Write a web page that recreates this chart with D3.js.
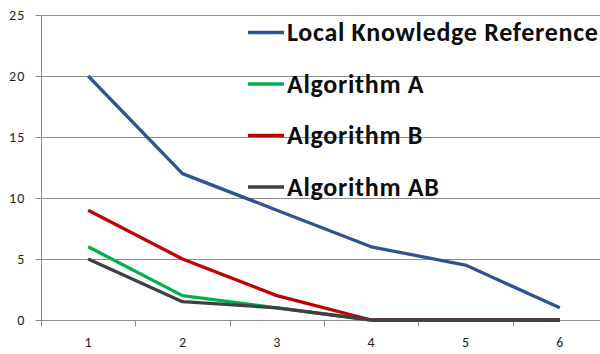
<!DOCTYPE html>
<html>
<head>
<meta charset="utf-8">
<script src="https://cdn.jsdelivr.net/npm/d3@7/dist/d3.min.js"></script>
<style>
  html, body { margin: 0; padding: 0; background: #fff; }
  svg { display: block; }
</style>
</head>
<body>
<svg id="chart" width="600" height="354"></svg>
<script>
// Run numbers on the x axis
const categories = ["1", "2", "3", "4", "5", "6"];
const yTicks = [0, 5, 10, 15, 20, 25];

// Series values, one per run
const localKnowledge = [20, 12, 9, 6, 4.5, 1];
const algorithmA = [6, 2, 1, 0, 0, 0];
const algorithmB = [9, 5, 2, 0, 0, 0];
const algorithmAB = [5, 1.5, 1, 0, 0, 0];

const seriesNames = ["Local Knowledge Reference", "Algorithm A", "Algorithm B", "Algorithm AB"];
const seriesColors = ["#2E5590", "#00B050", "#C00000", "#404040"];

(function draw() {
  const series = [
    { name: seriesNames[0], values: localKnowledge, color: seriesColors[0] },
    { name: seriesNames[1], values: algorithmA, color: seriesColors[1] },
    { name: seriesNames[2], values: algorithmB, color: seriesColors[2] },
    { name: seriesNames[3], values: algorithmAB, color: seriesColors[3] }
  ];

  const svg = d3.select("#chart");
  const plotLeft = 41, plotRight = 607, plotTop = 15, plotBottom = 320;

  const x = d3.scaleBand().domain(categories).range([plotLeft, plotRight]);
  const y = d3.scaleLinear().domain([0, 25]).range([plotBottom, plotTop]);

  const fontFam = "Calibri, Carlito, 'Open Sans', 'Liberation Sans', sans-serif";
  const gridColor = "#8c8c8c";

  // Horizontal gridlines
  svg.append("g")
    .selectAll("line")
    .data(yTicks.filter(d => d > 0))
    .join("line")
    .attr("x1", plotLeft).attr("x2", 600)
    .attr("y1", d => Math.round(y(d)) + 0.5).attr("y2", d => Math.round(y(d)) + 0.5)
    .attr("stroke", gridColor).attr("stroke-width", 1);

  // Y axis
  const yAxis = svg.append("g")
    .attr("transform", `translate(${plotLeft + 0.5},0)`)
    .call(d3.axisLeft(y).tickValues(yTicks).tickSize(6).tickPadding(10));
  yAxis.select(".domain").attr("stroke", gridColor).attr("d", `M0,${plotTop}V${plotBottom + 6}`);
  yAxis.selectAll(".tick line").attr("stroke", gridColor);
  yAxis.selectAll(".tick text")
    .attr("font-family", fontFam).attr("font-size", 14)
    .attr("letter-spacing", 1.2).attr("fill", "#1e1e1e");

  // X axis with ticks between categories
  const xAxis = svg.append("g")
    .attr("transform", `translate(0,${Math.round(plotBottom) + 0.5})`)
    .call(d3.axisBottom(x).tickSize(0).tickPadding(17));
  xAxis.select(".domain").attr("stroke", gridColor).attr("d", `M${plotLeft},0H600`);
  xAxis.selectAll(".tick text")
    .attr("font-family", fontFam).attr("font-size", 14).attr("fill", "#1e1e1e");
  xAxis.append("g")
    .selectAll("line")
    .data(categories)
    .join("line")
    .attr("x1", d => Math.round(x(d)) + 0.5).attr("x2", d => Math.round(x(d)) + 0.5)
    .attr("y1", 0).attr("y2", 6)
    .attr("stroke", gridColor);

  // Series lines
  const line = d3.line()
    .x((d, i) => x(categories[i]) + x.bandwidth() / 2)
    .y(d => y(d));

  svg.append("g")
    .selectAll("path")
    .data(series)
    .join("path")
    .attr("d", d => line(d.values))
    .attr("fill", "none")
    .attr("stroke", d => d.color)
    .attr("stroke-width", 3.3)
    .attr("stroke-linejoin", "round");

  // Legend
  const legendRows = [32.5, 84, 135.5, 187];
  const legend = svg.append("g");
  series.forEach((s, i) => {
    const g = legend.append("g").attr("transform", `translate(248,${legendRows[i]})`);
    g.append("line")
      .attr("x1", 0).attr("x2", 36)
      .attr("y1", 0).attr("y2", 0)
      .attr("stroke", s.color).attr("stroke-width", 3.5);
    g.append("text")
      .attr("x", 39).attr("y", 8.5)
      .attr("font-family", fontFam)
      .attr("font-weight", "bold")
      .attr("font-size", 26)
      .attr("letter-spacing", 0.7)
      .attr("fill", "#0d0d0d")
      .text(s.name);
  });
})();
</script>
</body>
</html>
